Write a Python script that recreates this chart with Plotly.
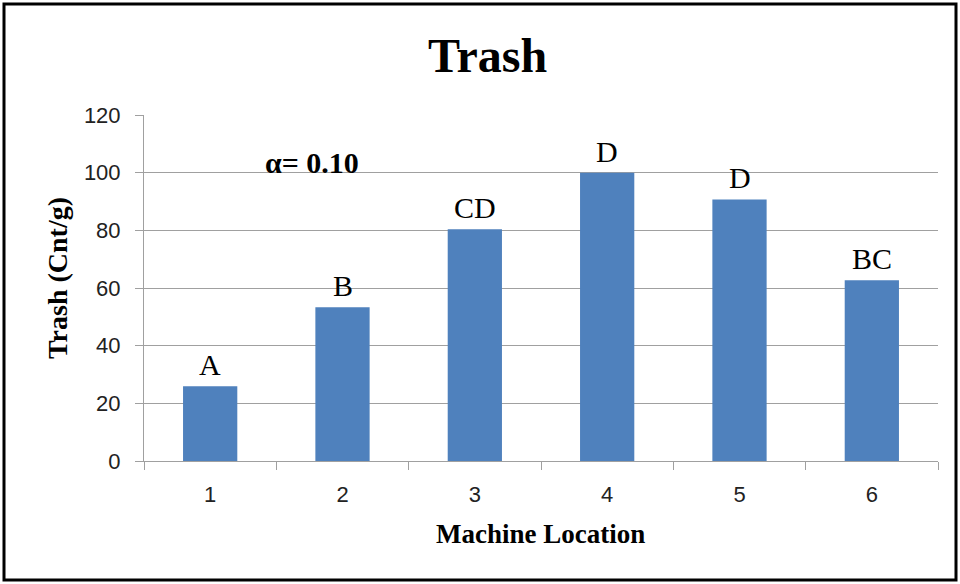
import plotly.graph_objects as go

# chart data
locations = ["1", "2", "3", "4", "5", "6"]
trash = [25.9, 53.3, 80.4, 100.0, 90.7, 62.7]
groups = ["A", "B", "CD", "D", "D", "BC"]
y_ticks = [0, 20, 40, 60, 80, 100, 120]

serif = "Liberation Serif, Times New Roman, serif"
sans = "Liberation Sans, Arial, sans-serif"

fig = go.Figure(go.Bar(
    x=locations,
    y=trash,
    marker=dict(color="#4f81bd", line=dict(width=0)),
    hoverinfo="x+y",
))

# significance letters above the bars (category index on the x axis)
for i, (val, grp) in enumerate(zip(trash, groups)):
    fig.add_annotation(
        x=i, y=val, text=grp, showarrow=False,
        yanchor="bottom", yshift=3,
        font=dict(family=serif, size=30, color="black"),
    )

fig.update_layout(
    width=960,
    height=584,
    margin=dict(l=144, r=22, t=115, b=123),
    paper_bgcolor="white",
    plot_bgcolor="white",
    bargap=0.59,
    showlegend=False,
    title=dict(
        text="<b>Trash</b>",
        font=dict(family=serif, size=48, color="black"),
        x=0.508, xanchor="center",
        y=1 - 55 / 584, yref="container", yanchor="middle",
    ),
)

fig.update_xaxes(
    type="category",
    tickson="boundaries",
    ticks="outside",
    ticklen=8,
    tickcolor="#a0a0a0",
    ticklabelstandoff=14,
    showline=True,
    linecolor="#a0a0a0",
    linewidth=1,
    showgrid=False,
    tickfont=dict(family=sans, size=22, color="#222222"),
)

fig.update_yaxes(
    range=[0, 120],
    tickvals=y_ticks,
    ticks="outside",
    ticklen=8,
    tickcolor="#a0a0a0",
    ticklabelstandoff=10,
    showline=True,
    linecolor="#a0a0a0",
    linewidth=1,
    showgrid=True,
    gridcolor="#a0a0a0",
    gridwidth=1,
    zeroline=False,
    tickfont=dict(family=sans, size=22, color="#222222"),
)

# axis titles and note
fig.add_annotation(
    text="<b>Machine Location</b>", xref="paper", yref="paper",
    x=(540 - 144) / 794, y=(461 - 534) / 346, showarrow=False,
    font=dict(family=serif, size=27, color="black"),
    xanchor="center", yanchor="middle",
)
fig.add_annotation(
    text="<b>Trash (Cnt/g)</b>", xref="paper", yref="paper",
    x=(57 - 144) / 794, y=(461 - 278) / 346, showarrow=False,
    textangle=-90,
    font=dict(family=serif, size=28, color="black"),
    xanchor="center", yanchor="middle",
)
fig.add_annotation(
    text="<b>α= 0.10</b>", xref="paper", yref="paper",
    x=(312 - 144) / 794, y=(461 - 162) / 346, showarrow=False,
    font=dict(family=serif, size=30, color="black"),
    xanchor="center", yanchor="middle",
)

# outer chart border
fig.add_shape(
    type="rect", xref="paper", yref="paper",
    x0=(4 - 144) / 794, x1=(956 - 144) / 794,
    y0=(461 - 580) / 346, y1=(461 - 4) / 346,
    line=dict(color="black", width=3),
    fillcolor="rgba(0,0,0,0)",
    layer="above",
)

fig.write_html(
    "out.html",
    config={"displayModeBar": False},
    post_script="document.body.style.margin='0';",
)
